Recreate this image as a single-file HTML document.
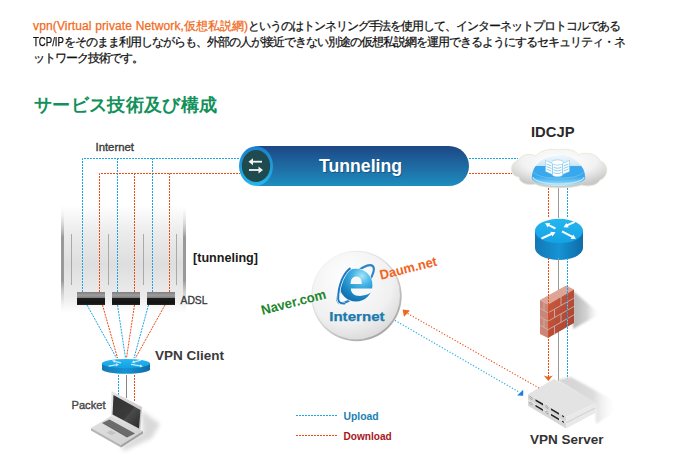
<!DOCTYPE html>
<html lang="ja">
<head>
<meta charset="utf-8">
<style>
html,body{margin:0;padding:0;background:#fff;}
body{width:680px;height:474px;overflow:hidden;position:relative;font-family:"Liberation Sans",sans-serif;}
.p{position:absolute;left:33px;top:17px;font-size:12px;line-height:16.5px;color:#111;white-space:nowrap;-webkit-text-stroke:0.25px currentColor;}
.p .o{color:#f26a1b;}
.p .j{letter-spacing:-1px;}
#a2{letter-spacing:0;}
#a4{letter-spacing:-1.05px;}
#b1{display:inline-block;transform:scaleX(0.8);transform-origin:0 0;margin-right:-7.7px;}
#a1{letter-spacing:0.14px;}
#c1{letter-spacing:-0.95px;}
.h{position:absolute;left:34px;top:93.7px;font-size:18px;line-height:22px;font-weight:bold;color:#13915a;white-space:nowrap;letter-spacing:0.35px;}
svg{position:absolute;left:0;top:0;}
.lb{font-family:"Liberation Sans",sans-serif;font-weight:bold;}
</style>
</head>
<body>
<div class="p" style="top:18px"><span class="o"><span class="l" id="a1">vpn(Virtual private Network,</span><span class="j" id="a2">仮想私説網</span><span class="l" id="a3">)</span></span><span class="j" id="a4">というのはトンネリング手法を使用して、インターネットプロトコルである</span></div>
<div class="p" style="top:33.5px"><span class="l" id="b1">TCP/IP</span><span class="j" id="b2">をそのまま利用しながらも、外部の人が接近できない別途の仮想私説網を運用できるようにするセキュリティ・ネ</span></div>
<div class="p" style="top:49.6px"><span class="j" id="c1">ットワーク技術です。</span></div>
<div class="h">サービス技術及び構成</div>

<svg width="680" height="474" viewBox="0 0 680 474">
<defs>
  <filter id="blur3" x="-50%" y="-50%" width="200%" height="200%"><feGaussianBlur stdDeviation="3"/></filter>
  <filter id="blur2" x="-50%" y="-50%" width="200%" height="200%"><feGaussianBlur stdDeviation="2"/></filter>
  <linearGradient id="panelV" x1="0" y1="0" x2="0" y2="1">
    <stop offset="0" stop-color="#fff"/>
    <stop offset="0.25" stop-color="#ececec"/>
    <stop offset="0.55" stop-color="#dedede"/>
    <stop offset="0.85" stop-color="#ececec"/>
    <stop offset="1" stop-color="#fff"/>
  </linearGradient>
  <linearGradient id="edgeV" x1="0" y1="0" x2="0" y2="1">
    <stop offset="0" stop-color="#fff" stop-opacity="0"/>
    <stop offset="0.3" stop-color="#999"/>
    <stop offset="0.7" stop-color="#999"/>
    <stop offset="1" stop-color="#fff" stop-opacity="0"/>
  </linearGradient>
  <linearGradient id="modem" x1="0" y1="0" x2="0" y2="1">
    <stop offset="0" stop-color="#7e7e7e"/>
    <stop offset="0.25" stop-color="#9c9c9c"/>
    <stop offset="0.42" stop-color="#8a8a8a"/>
    <stop offset="0.47" stop-color="#1e1e1e"/>
    <stop offset="0.85" stop-color="#111"/>
    <stop offset="1" stop-color="#2a2a2a"/>
  </linearGradient>
  <linearGradient id="pill" x1="0" y1="0" x2="0" y2="1">
    <stop offset="0" stop-color="#1d4785"/>
    <stop offset="1" stop-color="#1e8dbf"/>
  </linearGradient>
  <linearGradient id="ring" x1="0" y1="0" x2="0" y2="1">
    <stop offset="0" stop-color="#1b7fce"/>
    <stop offset="1" stop-color="#25b8ea"/>
  </linearGradient>
  <radialGradient id="inetG" cx="0.4" cy="0.3" r="0.75">
    <stop offset="0" stop-color="#ffffff"/>
    <stop offset="0.7" stop-color="#f0f0f0"/>
    <stop offset="1" stop-color="#d8d8d8"/>
  </radialGradient>
  <linearGradient id="rtTop" x1="0" y1="0" x2="0" y2="1">
    <stop offset="0" stop-color="#25b6f0"/>
    <stop offset="1" stop-color="#12a2e4"/>
  </linearGradient>
  <linearGradient id="rtSide" x1="0" y1="0" x2="1" y2="0">
    <stop offset="0" stop-color="#1478b5"/>
    <stop offset="0.5" stop-color="#1593d4"/>
    <stop offset="1" stop-color="#0f6ca8"/>
  </linearGradient>
  <linearGradient id="shadowR" x1="0" y1="0" x2="1" y2="0">
    <stop offset="0" stop-color="#bbb"/>
    <stop offset="1" stop-color="#fff" stop-opacity="0"/>
  </linearGradient>
  <radialGradient id="cloudG" cx="0.5" cy="0.3" r="0.65">
    <stop offset="0" stop-color="#fff"/>
    <stop offset="0.6" stop-color="#f2f2f2"/>
    <stop offset="1" stop-color="#c9c9c9"/>
  </radialGradient>
  <linearGradient id="domeG" x1="0" y1="0" x2="0" y2="1">
    <stop offset="0" stop-color="#f2f8fc"/>
    <stop offset="0.3" stop-color="#d4eaf7"/>
    <stop offset="0.36" stop-color="#c6e3f5"/>
    <stop offset="0.38" stop-color="#3ba7ed"/>
    <stop offset="0.7" stop-color="#38a8ec"/>
    <stop offset="0.85" stop-color="#6cc4f2"/>
    <stop offset="1" stop-color="#c4ebfb"/>
  </linearGradient>
  <linearGradient id="brick" x1="0" y1="0" x2="1" y2="1">
    <stop offset="0" stop-color="#cc5a42"/>
    <stop offset="1" stop-color="#a8402c"/>
  </linearGradient>
  <radialGradient id="eGrad" cx="0.68" cy="0.22" r="0.95">
    <stop offset="0" stop-color="#a6e6fa"/>
    <stop offset="0.3" stop-color="#43b4e6"/>
    <stop offset="0.65" stop-color="#1a86c4"/>
    <stop offset="1" stop-color="#0d5e9c"/>
  </radialGradient>
  <mask id="eMask" maskUnits="userSpaceOnUse" x="330" y="255" width="60" height="60">
    <rect x="330" y="255" width="60" height="60" fill="#fff"/>
    <path d="M350.6,284 C350.6,279 353,276.6 356.2,276.6 C359.6,276.6 361.8,279 361.8,284 Z" fill="#000"/>
    <path d="M350.8,288.6 L380,288.6 L380,292.6 L371,292.6 C367,295.3 362,296.3 357.5,295.8 C353.5,295.2 351,292.8 350.8,288.6 Z" fill="#000"/>
  </mask>
  <linearGradient id="lapBase" x1="0" y1="0" x2="1" y2="1">
    <stop offset="0" stop-color="#e2e2e2"/>
    <stop offset="1" stop-color="#cfcfcf"/>
  </linearGradient>
  <linearGradient id="lapLid" x1="0" y1="0" x2="1" y2="0">
    <stop offset="0" stop-color="#e6e6e6"/>
    <stop offset="1" stop-color="#c9c9c9"/>
  </linearGradient>
  <linearGradient id="lapScr" x1="0" y1="0" x2="1" y2="1">
    <stop offset="0" stop-color="#333"/>
    <stop offset="0.55" stop-color="#3a3a3a"/>
    <stop offset="0.6" stop-color="#4a4a4a"/>
    <stop offset="1" stop-color="#2a2a2a"/>
  </linearGradient>
  <linearGradient id="rimG" x1="0.2" y1="0.1" x2="0.8" y2="0.9">
    <stop offset="0" stop-color="#f2f2f2"/>
    <stop offset="0.5" stop-color="#d6d6d6"/>
    <stop offset="1" stop-color="#a8a8a8"/>
  </linearGradient>
  <linearGradient id="srvSh" x1="556" y1="0" x2="618" y2="0" gradientUnits="userSpaceOnUse">
    <stop offset="0" stop-color="#d2d2d2"/>
    <stop offset="0.6" stop-color="#dcdcdc"/>
    <stop offset="1" stop-color="#fff" stop-opacity="0"/>
  </linearGradient>
  <filter id="blur1" x="-50%" y="-50%" width="200%" height="200%"><feGaussianBlur stdDeviation="1"/></filter>
  <linearGradient id="fwSh" x1="573" y1="0" x2="601" y2="0" gradientUnits="userSpaceOnUse">
    <stop offset="0" stop-color="#b4b4b4"/>
    <stop offset="0.5" stop-color="#d4d4d4"/>
    <stop offset="1" stop-color="#fff" stop-opacity="0"/>
  </linearGradient>
  <filter id="blur05" x="-20%" y="-50%" width="140%" height="200%"><feGaussianBlur stdDeviation="0.6"/></filter>
</defs>

<!-- gray panel -->
<rect x="61" y="205" width="125" height="108" fill="url(#panelV)"/>
<rect x="61" y="205" width="3" height="108" fill="url(#edgeV)"/>
<rect x="183" y="205" width="3" height="108" fill="url(#edgeV)"/>
<g stroke="#aaa" stroke-width="1">
  <line x1="71.5" y1="234" x2="71.5" y2="285"/>
  <line x1="108.5" y1="234" x2="108.5" y2="285"/>
  <line x1="143.5" y1="234" x2="143.5" y2="285"/>
  <line x1="176.5" y1="234" x2="176.5" y2="285"/>
</g>

<!-- blue / red dotted lines top-left -->
<g fill="none" stroke-width="1" stroke-dasharray="2 1">
  <path d="M82.5 292 V158.5 H240" stroke="#1aa6e6"/>
  <path d="M117.5 292 V158.5" stroke="#1aa6e6"/>
  <path d="M152.5 292 V158.5" stroke="#1aa6e6"/>
  <path d="M99.5 292 V173.5 H240" stroke="#ee4a14"/>
  <path d="M134.5 292 V173.5" stroke="#ee4a14"/>
  <path d="M169.5 292 V173.5" stroke="#ee4a14"/>
  <!-- right of pill -->
  <path d="M469 158.5 H518" stroke="#1aa6e6"/>
  <path d="M469 173.5 H512" stroke="#ee4a14"/>
</g>

<!-- modems -->
<rect x="77" y="292" width="28" height="13" fill="url(#modem)"/>
<rect x="112" y="292" width="28" height="13" fill="url(#modem)"/>
<rect x="147" y="292" width="28" height="13" fill="url(#modem)"/>

<!-- fan lines to client -->
<g fill="none" stroke-width="1" stroke-dasharray="2 1">
  <path d="M87 305 L116.5 358" stroke="#1aa6e6"/>
  <path d="M102.5 305 L117.5 358" stroke="#ee4a14"/>
  <path d="M117.5 305 L125.5 358" stroke="#1aa6e6"/>
  <path d="M134.5 305 L126.5 358" stroke="#ee4a14"/>
  <path d="M148.5 305 L134 358" stroke="#1aa6e6"/>
  <path d="M165 305 L135.5 358" stroke="#ee4a14"/>
  <path d="M118.5 375 V398" stroke="#1aa6e6"/>
  <path d="M134.5 375 V402" stroke="#ee4a14"/>
</g>
<line x1="126.5" y1="375" x2="126.5" y2="398" stroke="#888" stroke-width="1"/>

<!-- VPN client router -->
<path d="M102 363.5 V369.3 A24 4.5 0 0 0 150 369.3 V363.5 Z" fill="url(#rtSide)"/>
<ellipse cx="126" cy="363.5" rx="24" ry="4.6" fill="url(#rtTop)"/>
<g fill="#fff" opacity="0.75"><polygon points="121.1,362.2 115.1,360.7 115.3,359.8 112.0,360.6 114.5,362.9 114.8,361.9 120.9,363.4"/><polygon points="140.9,359.6 134.3,361.3 134.0,360.3 131.5,362.6 134.8,363.4 134.6,362.4 141.1,360.8"/><polygon points="108.6,366.8 116.2,365.4 116.3,366.4 119.0,364.3 115.8,363.3 115.9,364.2 108.4,365.6"/><polygon points="130.9,364.9 139.9,366.5 139.8,367.5 143.0,366.4 140.3,364.3 140.1,365.3 131.1,363.7"/></g>

<!-- laptop -->
<polygon points="141,410 160,424 152,438 124,451 121,447 143,432" fill="#d0d0d0" filter="url(#blur2)" opacity="0.8"/>
<polygon points="91,428 111,416 143,431 121,445" fill="url(#lapBase)"/>
<polygon points="91,428 121,445 121,447.5 91,430.5" fill="#b4b4b4"/>
<polygon points="121,445 143,431 143,433.5 121,447.5" fill="#a0a0a0"/>
<polygon points="102,423 109.5,419.5 135,433.5 127,437.5" fill="#666"/>
<g stroke="#888" stroke-width="0.35">
  <path d="M104,422 L129,436 M106,421 L131,435 M108,420 L133,434"/>
</g>
<polygon points="106.5,432.5 111,430.3 116,433 111.5,435.3" fill="#c4c4c4"/>
<polygon points="111.5,391 142,407 140.5,430 111,416" fill="url(#lapLid)"/>
<polygon points="113.5,395 140.5,410 139,428.5 112.5,414.5" fill="url(#lapScr)"/>
<!-- Tunneling pill -->
<rect x="240" y="146" width="229" height="40" rx="20" ry="20" fill="url(#pill)"/>
<ellipse cx="256" cy="166" rx="17" ry="19.7" fill="url(#ring)"/>
<ellipse cx="256" cy="166" rx="14.2" ry="16" fill="#1f4a4e"/>
<g fill="#f4f4f4" stroke="none">
  <rect x="251" y="160.8" width="11" height="1.8"/>
  <polygon points="248.5,161.7 253,158.2 253,165.2"/>
  <rect x="249" y="169.1" width="11" height="1.8"/>
  <polygon points="263,170 258.5,166.5 258.5,173.5"/>
</g>
<text x="361.5" y="173" text-anchor="middle" class="lb" font-size="18" fill="#0b2f55" opacity="0.45" filter="url(#blur05)" textLength="83" lengthAdjust="spacingAndGlyphs">Tunneling</text>
<text x="360.5" y="172" text-anchor="middle" class="lb" font-size="18" fill="#fff" textLength="83" lengthAdjust="spacingAndGlyphs">Tunneling</text>

<!-- labels -->
<text x="95.5" y="151" font-family="Liberation Sans" font-size="11" fill="#3a3a3a" stroke="#3a3a3a" stroke-width="0.35" textLength="38.5" lengthAdjust="spacingAndGlyphs">Internet</text>
<text x="193" y="262" class="lb" font-size="12.5" fill="#1a1a1a" textLength="65" lengthAdjust="spacingAndGlyphs">[tunneling]</text>
<text x="180.5" y="303.7" font-family="Liberation Sans" font-size="11" fill="#3a3a3a" stroke="#3a3a3a" stroke-width="0.35" textLength="27" lengthAdjust="spacingAndGlyphs">ADSL</text>
<text x="155" y="359.7" class="lb" font-size="13" fill="#3a3a3a" textLength="69" lengthAdjust="spacingAndGlyphs">VPN Client</text>
<text x="71.5" y="408.9" font-family="Liberation Sans" font-size="11" fill="#4a4a4a" stroke="#4a4a4a" stroke-width="0.4" textLength="34" lengthAdjust="spacingAndGlyphs">Packet</text>
<text x="531" y="137" class="lb" font-size="14.5" fill="#2a2a2a" textLength="43.5" lengthAdjust="spacingAndGlyphs">IDCJP</text>
<text x="530" y="443.5" class="lb" font-size="12.8" fill="#333" textLength="73.5" lengthAdjust="spacingAndGlyphs">VPN Server</text>

<!-- right column lines -->
<g fill="none" stroke-width="1" stroke-dasharray="2 1">
  <path d="M548.5 188 V218" stroke="#ee4a14"/>
  <path d="M567.5 188 V218" stroke="#1aa6e6"/>
</g>
<line x1="558.5" y1="188" x2="558.5" y2="218" stroke="#999" stroke-width="1"/>

<!-- cloud -->
<g>
  <path d="M519,177 C509,176 509,162 519,160 C521,154 531,153 536,156 C540,150 552,148 558,150 C566,148 576,150 578,155 C586,151 598,154 600,161 C609,163 609,177 600,180 C597,186 587,187 582,185 C570,189 545,189 535,184 C528,186 519,183 519,177 Z" fill="url(#cloudG)" stroke="#e9e6d2" stroke-width="0.8"/>
  <path d="M531.7,178 A26.8,23.5 0 0 1 585.3,178 A26.8,8 0 0 1 531.7,178 Z" fill="url(#domeG)"/>
  <path d="M533,177 A25.5,7 0 0 0 584,177" fill="none" stroke="#bfe7fa" stroke-width="1.2"/>
  <path d="M534,172 A24,6 0 0 0 583,172" fill="none" stroke="#7dcdf4" stroke-width="0.8" opacity="0.7"/>
  <g fill="#fff" stroke="#6cc0ec" stroke-width="0.5">
    <path d="M545.5,160.5 L552.5,163.5 L552.5,174.5 L545.5,171.5 Z"/>
    <path d="M569.5,160.5 L562.5,163.5 L562.5,174.5 L569.5,171.5 Z"/>
    <path d="M552.5,163.5 C555,165.3 560,165.3 562.5,163.5 L562.5,175.5 C560,177.3 555,177.3 552.5,175.5 Z"/>
    <ellipse cx="557.5" cy="162.5" rx="6" ry="2.6"/>
  </g>
  <g stroke="#58b4e6" stroke-width="0.7" fill="none">
    <path d="M546.5,164 L551.5,166 M546.5,166.5 L551.5,168.5 M546.5,169 L551.5,171"/>
    <path d="M568.5,164 L563.5,166 M568.5,166.5 L563.5,168.5 M568.5,169 L563.5,171"/>
    <path d="M553.5,167 C556,168.6 559,168.6 561.5,167 M553.5,169.7 C556,171.3 559,171.3 561.5,169.7 M553.5,172.4 C556,174 559,174 561.5,172.4"/>
  </g>
  <path d="M535,166 C540,158 548,155.5 558,155.3" fill="none" stroke="#fff" stroke-width="1" opacity="0.8"/>
</g>

<!-- right router -->
<path d="M535 231 V248 A24 12 0 0 0 583 248 V231 Z" fill="url(#rtSide)"/>
<ellipse cx="559" cy="231" rx="24" ry="12.3" fill="url(#rtTop)"/>
<g fill="#fff">
<polygon points="555.9,227.6 549.5,224.4 550.2,222.9 545.0,223.2 547.8,227.6 548.6,226.1 554.9,229.4"/>
<polygon points="574.3,220.9 567.1,224.3 566.4,222.9 563.5,227.2 568.7,227.6 568.0,226.1 575.1,222.7"/>
<polygon points="541.9,239.4 551.8,235.0 552.5,236.4 555.5,232.2 550.3,231.7 551.0,233.1 541.1,237.6"/>
<polygon points="561.5,232.3 571.6,237.6 570.8,239.0 576.0,238.8 573.2,234.4 572.5,235.8 562.5,230.5"/>
</g>

<!-- firewall -->
<polygon points="573,291 600,314 573,329" fill="url(#fwSh)" filter="url(#blur1)"/>
<line x1="558.5" y1="258" x2="558.5" y2="381" stroke="#999" stroke-width="1"/>
<polygon points="540,300 566,285.5 574,289.6 548,304.5" fill="#dda596"/>
<polygon points="540,300 548,304.5 548,338 540,334" fill="#cc8576"/>
<polygon points="548,304.5 574,289.6 574,323 548,338" fill="url(#brick)"/>
<g stroke="#c4b4ae" stroke-width="0.9" fill="none">
  <path d="M548 312.9 L574 298"/>
  <path d="M548 321.3 L574 306.4"/>
  <path d="M548 329.7 L574 314.8"/>
  <path d="M540 308.4 L548 312.9"/>
  <path d="M540 316.8 L548 321.3"/>
  <path d="M540 325.2 L548 329.7"/>
  <path d="M561 297 V305.4 M554.5 309.3 V317.6 M567.5 301.8 V310 M561 313.8 V322.2 M554.5 326.1 V334.3 M567.5 318.6 V326.8 M544 302.2 V310.6 M544 319 V327.4"/>
</g>
<g fill="none" stroke-width="1" stroke-dasharray="2 1">
  <path d="M548.5 258 V377" stroke="#ee4a14"/>
  <path d="M567.5 258 V379" stroke="#1aa6e6"/>
</g>
<path d="M543.8,375.6 Q548.3,377.8 552.8,375.6 L548.3,381 Z" fill="#e8661a"/>

<!-- VPN server -->
<polygon points="557,380 571,377 616,402 614,412 596,424 595,404" fill="url(#srvSh)" filter="url(#blur1)"/>
<polygon points="528,394.3 554,378.9 595.2,403.2 566.1,416.9" fill="#e3e3e3"/>
<polygon points="528,394.3 566.1,416.9 566.1,428.6 528,405.8" fill="#d6d6d6"/>
<polygon points="566.1,416.9 595.2,403.2 595.2,412.9 566.1,428.6" fill="#e9e9e9"/>
<path d="M528 400 L566.1 422.7" stroke="#f4f4f4" stroke-width="0.8"/>
<path d="M566.1 422.7 L595.2 408" stroke="#c8c8c8" stroke-width="0.8"/>
<g fill="#222">
  <polygon points="530,396.5 532,397.7 532,399.5 530,398.3" fill="#fff" stroke="#555" stroke-width="0.4"/>
  <polygon points="530,402 532,403.2 532,405 530,403.8" fill="#fff" stroke="#555" stroke-width="0.4"/>
  <polygon points="535.5,399.2 543,403.6 543,405.4 535.5,401"/>
  <polygon points="535.5,404.8 543,409.2 543,411 535.5,406.6"/>
  <polygon points="546,405.4 548,406.6 548,408.4 546,407.2" fill="#fff" stroke="#555" stroke-width="0.4"/>
  <polygon points="546,411 548,412.2 548,414 546,412.8" fill="#fff" stroke="#555" stroke-width="0.4"/>
  <polygon points="551,408.2 559,412.9 559,414.7 551,410"/>
  <polygon points="551,413.8 559,418.5 559,420.3 551,415.6"/>
  <polygon points="562,415 564,416.2 564,417.4 562,416.2"/>
  <polygon points="562,420.6 564,421.8 564,423 562,421.8"/>
</g>

<!-- Internet circle -->
<circle cx="356.5" cy="296" r="45.2" fill="url(#rimG)"/>
<circle cx="356.2" cy="295.6" r="43.8" fill="url(#inetG)"/>
<text x="329.2" y="320.6" class="lb" font-size="12.6" fill="#1b7aae" stroke="#1b7aae" stroke-width="0.25" textLength="55.4" lengthAdjust="spacingAndGlyphs">Internet</text>
<!-- IE logo -->
<g>
  <ellipse cx="355.6" cy="284.3" rx="25" ry="8.5" transform="rotate(-46.6 355.6 284.3)" fill="none" stroke="#2a86c8" stroke-width="2.2"/>
  <circle cx="356" cy="285.2" r="17" fill="#f8f8f8"/>
  <g mask="url(#eMask)">
    <circle cx="356" cy="285.2" r="16.4" fill="url(#eGrad)"/>
  </g>
  <path d="M341.5,276 C344,271 347,268.5 350,267.5" fill="none" stroke="#fff" stroke-width="1.6" opacity="0.9"/>
  <path d="M350.5,268.2 C344,272.5 338,285 338.2,299 C338.3,302 340.5,304 345,303.5" fill="none" stroke="#fff" stroke-width="3.4"/>
  <path d="M350.5,268.2 C344,272.5 338,285 338.2,299 C338.3,302 340.5,304 345,303.5" fill="none" stroke="#1f78c0" stroke-width="2"/>
</g>
<text x="262.5" y="315" class="lb" font-size="13.6" fill="#22862c" transform="rotate(-14.6 262.5 315)" textLength="66.5" lengthAdjust="spacingAndGlyphs">Naver.com</text>
<text x="381" y="279.8" class="lb" font-size="13.4" fill="#f0641e" transform="rotate(-14.2 381 279.8)" textLength="58.5" lengthAdjust="spacingAndGlyphs">Daum.net</text>

<!-- internet <-> server lines -->
<g fill="none" stroke-width="1.1" stroke-dasharray="1.2 1.8">
  <path d="M405 312 L539 388" stroke="#ee4a14"/>
  <path d="M395 320.5 L519 392" stroke="#1aa6e6"/>
</g>
<polygon points="402.6,309.6 410,310.4 404,316.8" fill="#ec6a1c"/>
<polygon points="523.2,389.8 523.2,395.8 517.2,395.5" fill="#1a7fe0"/>

<!-- legend -->
<g fill="none" stroke-width="1" stroke-dasharray="2 1">
  <path d="M296 415.5 H337" stroke="#1aa6e6"/>
  <path d="M296 435.5 H337" stroke="#ee4a14"/>
</g>
<text x="343.5" y="419.5" class="lb" font-size="11" fill="#1b7fb3" textLength="35.2" lengthAdjust="spacingAndGlyphs">Upload</text>
<text x="343.5" y="439.6" class="lb" font-size="10.8" fill="#a8161a" textLength="48.2" lengthAdjust="spacingAndGlyphs">Download</text>
</svg>
</body>
</html>
